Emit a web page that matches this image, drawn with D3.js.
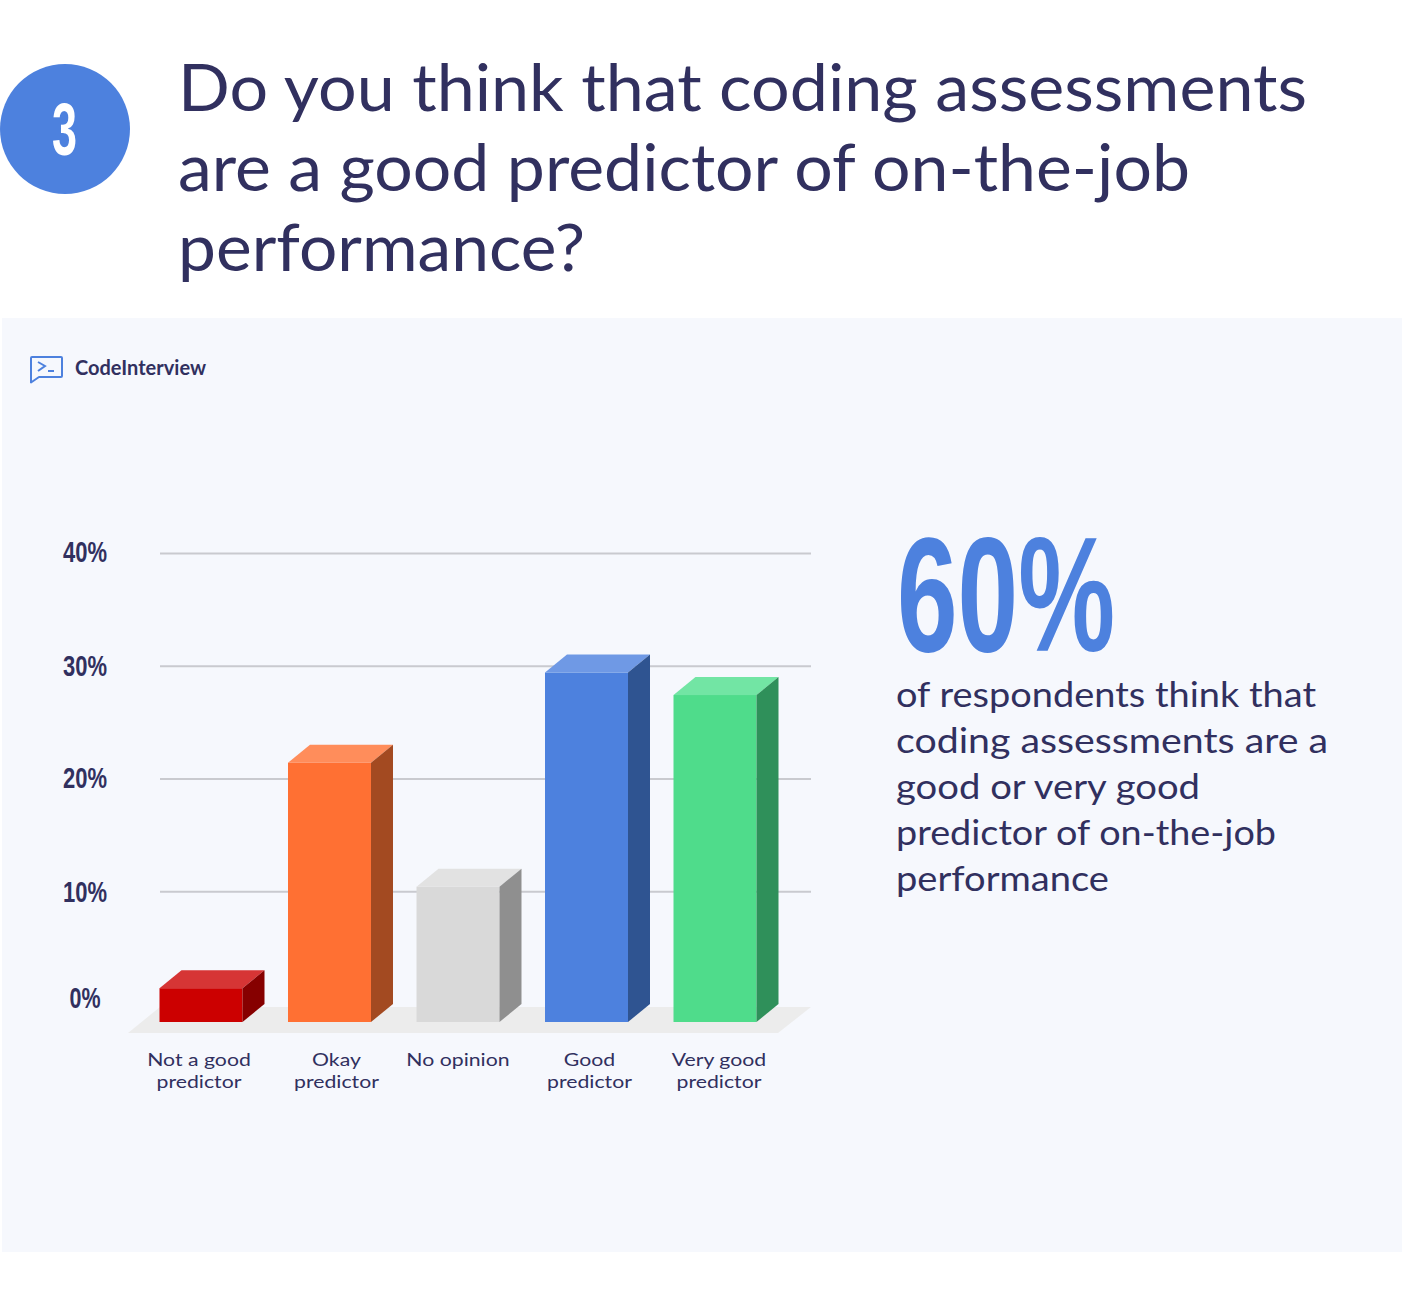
<!DOCTYPE html>
<html>
<head>
<meta charset="utf-8">
<script src="https://d3js.org/d3.v7.min.js"></script>
<style>
  html, body { margin: 0; padding: 0; background: #fff; }
  svg { display: block; }
  text { font-family: Lato, "Noto Sans", sans-serif; fill: #31305f; }
  .narrow { font-family: "Liberation Sans Narrow", "Liberation Sans", sans-serif; font-weight: 700; }
</style>
</head>
<body>
<div class="canvas"></div>
<script>
// chart data
const categories = ["Not a good|predictor", "Okay|predictor", "No opinion", "Good|predictor", "Very good|predictor"];
const values = [3, 23, 12, 31, 29];
const tickValues = [0, 10, 20, 30, 40];
const frontColors = ["#cc0000", "#ff7033", "#d9d9d9", "#4d81de", "#4fdc8b"];
const topColors = ["#d63535", "#ff8d5b", "#e2e2e2", "#6f99e5", "#72e5a4"];
const sideColors = ["#860000", "#a34a21", "#8f8f8f", "#2f5491", "#2f905a"];

const titleLines = ["Do you think that coding assessments", "are a good predictor of on-the-job", "performance?"];
const noteLines = ["of respondents think that", "coding assessments are a", "good or very good", "predictor of on-the-job", "performance"];

const svg = d3.select(".canvas").append("svg").attr("width", 1404).attr("height", 1316);

// squeeze a text to the width it has in the picture
function fit(sel, w) {
  return sel.attr("textLength", w).attr("lengthAdjust", "spacingAndGlyphs");
}

// header
svg.append("circle").attr("cx", 65).attr("cy", 129).attr("r", 65).attr("fill", "#4d81de");
fit(svg.append("text").attr("class", "narrow").attr("x", 52).attr("y", 155)
  .attr("font-size", 74).style("fill", "#fff").text("3"), 25);

const titleWidths = [1129, 1012, 407];
svg.selectAll(".title").data(titleLines).join("text")
  .attr("class", "title")
  .attr("x", 178)
  .attr("y", (d, i) => 111 + i * 80)
  .attr("font-size", 65)
  .text(d => d)
  .each(function (d, i) { fit(d3.select(this), titleWidths[i]); });

// panel
svg.append("rect").attr("x", 2).attr("y", 318).attr("width", 1400).attr("height", 934).attr("fill", "#f6f8fd");

// logo
svg.append("path")
  .attr("d", "M32 357H61a1 1 0 0 1 1 1V376a1 1 0 0 1 -1 1H39L31 382.5V358a1 1 0 0 1 1 -1Z")
  .attr("fill", "none").attr("stroke", "#4d81de").attr("stroke-width", 2).attr("stroke-linejoin", "round");
svg.append("path").attr("d", "M38 362L45 366L38 371M48 371H54")
  .attr("fill", "none").attr("stroke", "#4d81de").attr("stroke-width", 2);
fit(svg.append("text").attr("x", 75).attr("y", 375).attr("font-size", 20).attr("font-weight", 700).text("CodeInterview"), 131);

// scales
const depthX = 22, depthY = 18, barW = 83;
const x = d3.scalePoint().domain(categories).range([159.5, 673.5]);
const y = d3.scaleLinear().domain([0, 40]).range([1004, 553]);

// axis with the gridlines on the back wall
const tickLift = { 0: -7.5, 10: -0.5, 20: -2, 30: -0.5, 40: -2 };
const axis = svg.append("g")
  .attr("transform", "translate(160,0)")
  .call(d3.axisRight(y).tickValues(tickValues).tickFormat(d => d + "%").tickSize(651));
axis.select(".domain").remove();
axis.selectAll(".tick line").attr("stroke", "#c9cacf").attr("stroke-width", 2)
  .attr("display", d => d === 0 ? "none" : null);
axis.selectAll(".tick text")
  .attr("class", "narrow")
  .attr("x", -75)
  .attr("y", d => tickLift[d])
  .attr("dy", "0.35em")
  .attr("text-anchor", "middle")
  .attr("font-size", 30)
  .style("fill", "#31305f")
  .attr("textLength", d => d === 0 ? 31 : 44)
  .attr("lengthAdjust", "spacingAndGlyphs");

// floor
const floorPts = [[128, 1033], [778, 1033], [811, 1007], [160, 1007]];
svg.append("polygon").attr("points", floorPts.join(" ")).attr("fill", "#ececec");

// bars: front, top and side faces
const bars = svg.selectAll(".bar").data(categories).join("g").attr("class", "bar");
const base = y(0) + depthY;
bars.append("rect")
  .attr("x", d => x(d))
  .attr("y", (d, i) => y(values[i]) + depthY)
  .attr("width", barW)
  .attr("height", (d, i) => base - y(values[i]) - depthY)
  .attr("fill", (d, i) => frontColors[i]);
bars.append("polygon")
  .attr("points", (d, i) => {
    const x0 = x(d), t = y(values[i]) + depthY;
    return [[x0, t], [x0 + barW, t], [x0 + barW + depthX, t - depthY], [x0 + depthX, t - depthY]].join(" ");
  })
  .attr("fill", (d, i) => topColors[i]);
bars.append("polygon")
  .attr("points", (d, i) => {
    const x1 = x(d) + barW, t = y(values[i]) + depthY;
    return [[x1, t], [x1 + depthX, t - depthY], [x1 + depthX, base - depthY], [x1, base]].join(" ");
  })
  .attr("fill", (d, i) => sideColors[i]);

// category labels sit a little off the bar centres in the picture
const labelShift = [-2, 7, 0, 3, 4];
categories.forEach((d, i) => {
  d.split("|").forEach((s, j) => {
    const t = svg.append("text")
      .attr("class", "cat")
      .attr("text-anchor", "middle")
      .attr("x", x(d) + barW / 2 + labelShift[i])
      .attr("y", 1066 + j * 22)
      .attr("font-size", 18)
      .text(s);
    // the original face is wider than Lato
    fit(t, t.node().getComputedTextLength() * 1.18);
  });
});

// callout
fit(svg.append("text").attr("class", "narrow").attr("x", 897).attr("y", 651)
  .attr("font-size", 164).style("fill", "#4d81de").text("60%"), 218);

const noteWidths = [420, 432, 304, 380, 213];
svg.selectAll(".note").data(noteLines).join("text")
  .attr("class", "note")
  .attr("x", 896)
  .attr("y", (d, i) => 707 + i * 46)
  .attr("font-size", 34)
  .text(d => d)
  .each(function (d, i) { fit(d3.select(this), noteWidths[i]); });
</script>
</body>
</html>
